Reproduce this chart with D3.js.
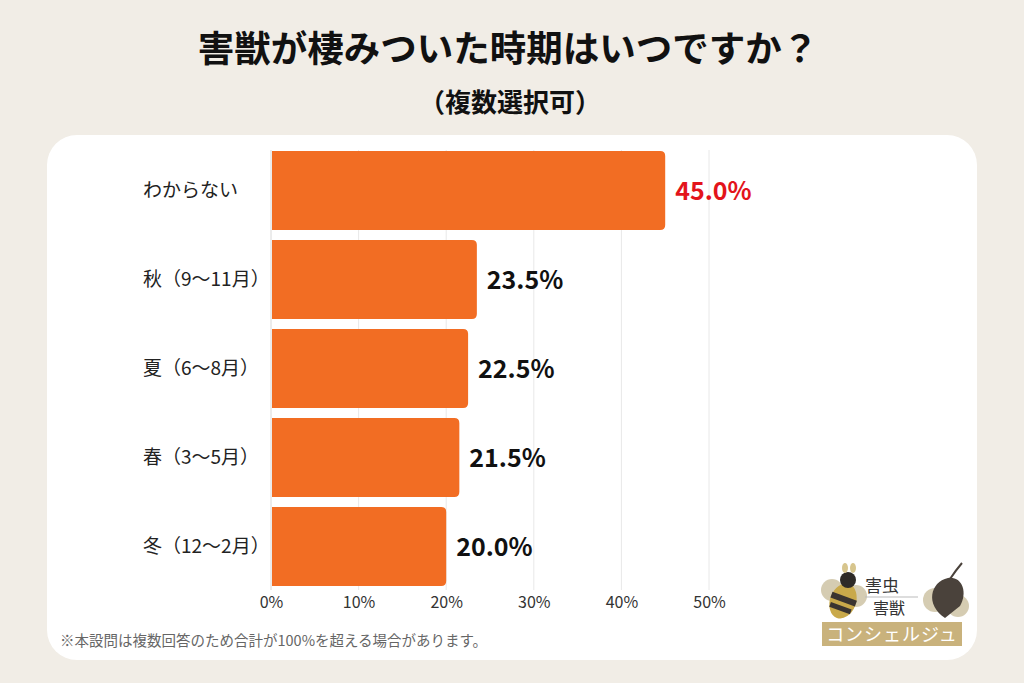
<!DOCTYPE html>
<html>
<head>
<meta charset="utf-8">
<script src="https://cdn.jsdelivr.net/npm/d3@7"></script>
<style>
  body { margin: 0; background: #f1ede6; }
  svg { display: block; font-family: "Noto Sans CJK JP", "Noto Sans", sans-serif; }
</style>
</head>
<body>
<svg width="1024" height="683"></svg>
<script>
// data
const categories = ["わからない", "秋（9〜11月）", "夏（6〜8月）", "春（3〜5月）", "冬（12〜2月）"];
const values = [45.0, 23.5, 22.5, 21.5, 20.0];
const ticks = [0, 10, 20, 30, 40, 50];
const title = "害獣が棲みついた時期はいつですか？";
const subtitle = "（複数選択可）";
const note = "※本設問は複数回答のため合計が100%を超える場合があります。";

const svg = d3.select("svg");

// background + white panel
svg.append("rect").attr("width", 1024).attr("height", 683).attr("fill", "#f1ede6");
svg.append("rect")
  .attr("x", 47).attr("y", 135).attr("width", 930).attr("height", 525)
  .attr("rx", 30).attr("fill", "#ffffff");

// titles
svg.append("text").attr("x", 508).attr("y", 62)
  .attr("text-anchor", "middle").attr("font-size", 36.5).attr("font-weight", 700)
  .attr("fill", "#111").text(title);
svg.append("text").attr("x", 510).attr("y", 112)
  .attr("text-anchor", "middle").attr("font-size", 26).attr("font-weight", 700)
  .attr("fill", "#111").text(subtitle);

// scales
const x = d3.scaleLinear().domain([0, 50]).range([271, 709]);
const y = d3.scaleBand().domain(categories).range([146, 591]).paddingInner(0.11).paddingOuter(0.055);

// gridlines
svg.append("g").selectAll("line")
  .data(ticks)
  .enter()
  .append("line")
  .attr("x1", d => x(d)).attr("x2", d => x(d))
  .attr("y1", 150).attr("y2", 590)
  .attr("stroke", d => d === 0 ? "#d8d8d8" : "#e8e8e8")
  .attr("stroke-width", 1);

// x axis labels
const xAxis = svg.append("g")
  .attr("transform", "translate(0,590)")
  .call(d3.axisBottom(x).tickValues(ticks).tickFormat(d => d + "%").tickSize(0).tickPadding(7));
xAxis.select(".domain").remove();
xAxis.selectAll("text")
  .attr("font-size", 16).attr("fill", "#333")
  .attr("font-family", "'Noto Sans CJK JP', sans-serif");

// bars: flat left edge, rounded right end
function barPath(x0, x1, y0, h, r) {
  return `M${x0},${y0} H${x1 - r} Q${x1},${y0} ${x1},${y0 + r} V${y0 + h - r} Q${x1},${y0 + h} ${x1 - r},${y0 + h} H${x0} Z`;
}
svg.append("g").selectAll("path")
  .data(categories)
  .enter()
  .append("path")
  .attr("d", (d, i) => barPath(x(0) + 1, x(values[i]), y(d), y.bandwidth(), 5))
  .attr("fill", "#f26d23");

// category labels
svg.append("g").selectAll("text")
  .data(categories)
  .enter()
  .append("text")
  .attr("x", 143)
  .attr("y", d => y(d) + y.bandwidth() / 2)
  .attr("dy", "0.35em")
  .attr("font-size", 19)
  .attr("fill", "#222")
  .text(d => d);

// value labels
svg.append("g").selectAll("text")
  .data(categories)
  .enter()
  .append("text")
  .attr("x", (d, i) => x(values[i]) + 10)
  .attr("y", d => y(d) + y.bandwidth() / 2)
  .attr("dy", "0.36em")
  .attr("font-size", 25)
  .attr("font-weight", 700)
  .attr("fill", (d, i) => i === 0 ? "#e3141b" : "#111")
  .text((d, i) => values[i].toFixed(1) + "%");

// footnote
svg.append("text").attr("x", 60).attr("y", 646)
  .attr("font-size", 14.5).attr("fill", "#666").text(note);

// logo (simplified)
const logo = svg.append("g");
logo.append("circle").attr("cx", 832).attr("cy", 590).attr("r", 11).attr("fill", "#cbbf9f").attr("opacity", 0.8);
logo.append("circle").attr("cx", 856).attr("cy", 596).attr("r", 11).attr("fill", "#cbbf9f").attr("opacity", 0.8);
logo.append("ellipse").attr("cx", 843).attr("cy", 601).attr("rx", 13).attr("ry", 18)
  .attr("transform", "rotate(20,843,601)").attr("fill", "#c9a94a");
logo.append("rect").attr("x", 830).attr("y", 596).attr("width", 26).attr("height", 6)
  .attr("transform", "rotate(20,843,601)").attr("fill", "#3a3430");
logo.append("rect").attr("x", 832).attr("y", 606).attr("width", 22).attr("height", 5)
  .attr("transform", "rotate(20,843,601)").attr("fill", "#3a3430");
logo.append("circle").attr("cx", 848).attr("cy", 580).attr("r", 8).attr("fill", "#2e2a27");
logo.append("ellipse").attr("cx", 845).attr("cy", 568).attr("rx", 3).attr("ry", 5).attr("fill", "#d7c58d");
logo.append("ellipse").attr("cx", 853).attr("cy", 568).attr("rx", 3).attr("ry", 5).attr("fill", "#d7c58d");

logo.append("circle").attr("cx", 935).attr("cy", 600).attr("r", 12).attr("fill", "#cbbf9f").attr("opacity", 0.8);
logo.append("circle").attr("cx", 958).attr("cy", 606).attr("r", 11).attr("fill", "#cbbf9f").attr("opacity", 0.8);
logo.append("path")
  .attr("d", "M945,618 C925,605 930,582 948,578 C962,576 968,592 960,606 Z")
  .attr("fill", "#4a423b");
logo.append("path").attr("d", "M950,579 Q956,570 962,563")
  .attr("stroke", "#4a423b").attr("stroke-width", 2).attr("fill", "none");

logo.append("text").attr("x", 882).attr("y", 592).attr("text-anchor", "middle")
  .attr("font-size", 17).attr("fill", "#333").text("害虫");
logo.append("line").attr("x1", 865).attr("x2", 918).attr("y1", 597).attr("y2", 597)
  .attr("stroke", "#bbb").attr("stroke-width", 1);
logo.append("text").attr("x", 889).attr("y", 614).attr("text-anchor", "middle")
  .attr("font-size", 16).attr("fill", "#333").text("害獣");
logo.append("rect").attr("x", 822).attr("y", 622).attr("width", 140).attr("height", 24).attr("fill", "#c9b27c");
logo.append("text").attr("x", 892).attr("y", 641).attr("text-anchor", "middle")
  .attr("font-size", 18).attr("fill", "#ffffff").attr("letter-spacing", 1).text("コンシェルジュ");
</script>
</body>
</html>
